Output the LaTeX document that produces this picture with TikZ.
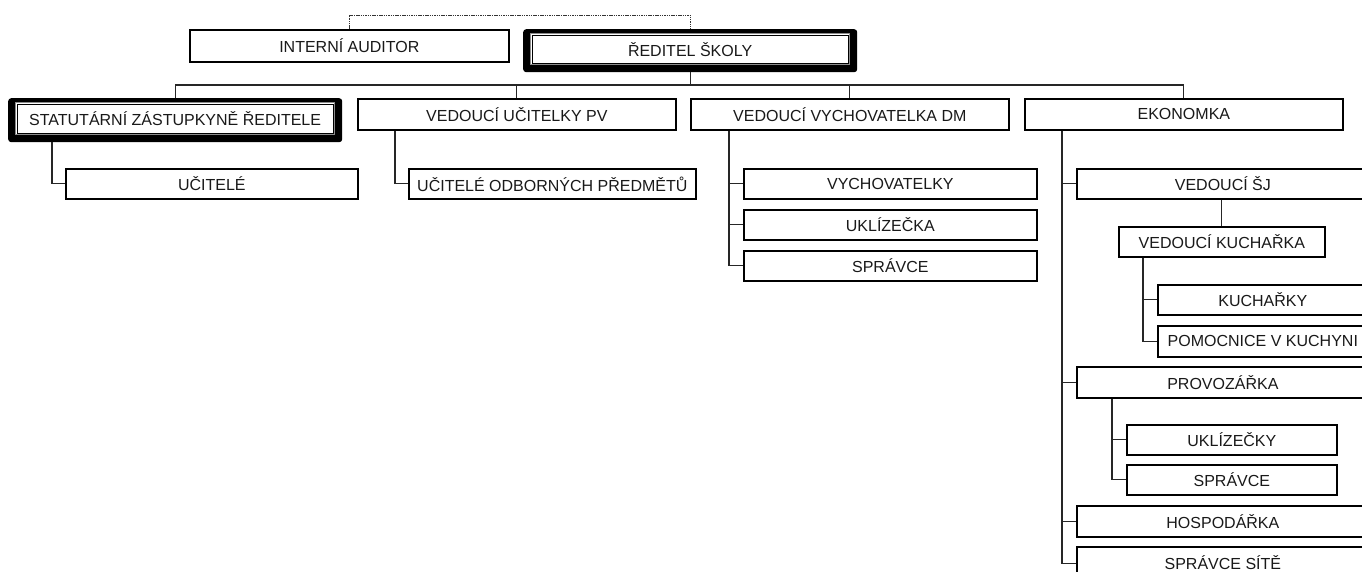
\documentclass[tikz,border=0pt]{standalone}
\usepackage{fontspec}
\setmainfont{Liberation Sans}
\newcommand\obox[6]{\node[box, minimum width={#4-#2}, minimum height={#5-#3}] (#1) at (#2,#3) {#6};}
\newcommand\heavybox[6]{%
  \node[heavyouter, minimum width={#4-#2}, minimum height={#5-#3}] (#1) at (#2,#3) {};
  \node[heavyinner, minimum width={#4-#2-15}, minimum height={#5-#3-12}] (#1in) at (#2+7,#3+4) {#6};
  \draw[black, line width=0.6pt] ([shift={(2.2,2.2)}]#1in.north west) rectangle ([shift={(-2.2,-2.2)}]#1in.south east);}
\begin{document}
\begin{tikzpicture}[x=1pt,y=-1pt,
  box/.style={draw=black, line width=1.7pt, fill=white, inner sep=0pt, anchor=north west,
    font=\fontsize{16}{18}\selectfont, text=black!90},
  heavyouter/.style={fill=black, rounded corners=3pt, inner sep=0pt, anchor=north west},
  heavyinner/.style={draw=black!45, line width=1.2pt, fill=white, inner sep=0pt, anchor=north west,
    font=\fontsize{16}{18}\selectfont, text=black!90},
  conn/.style={draw=black!85, line width=1.1pt},
  dotline/.style={draw=black!80, line width=0.7pt, dash pattern=on 1.5pt off 0.8pt}]
\useasboundingbox (0,0) rectangle (1362,572);

% top level
\obox{aud}{189}{29}{508}{61}{INTERNÍ AUDITOR}
\heavybox{dir}{523}{29}{857}{72}{ŘEDITEL ŠKOLY}

% second level
\heavybox{stat}{8}{98}{342}{142}{STATUTÁRNÍ ZÁSTUPKYNĚ ŘEDITELE}
\obox{pv}{357}{98}{675}{129}{VEDOUCÍ UČITELKY PV}
\obox{dm}{690}{98}{1008}{129}{VEDOUCÍ VYCHOVATELKA DM}
\obox{eko}{1024}{98}{1342}{129}{EKONOMKA}

% third level
\obox{uc}{65}{168}{357}{198}{UČITELÉ}
\obox{uop}{408}{168}{695}{198}{UČITELÉ ODBORNÝCH PŘEDMĚTŮ}
\obox{vych}{743}{168}{1036}{198}{VYCHOVATELKY}
\obox{ukl}{743}{209}{1036}{239}{UKLÍZEČKA}
\obox{spr}{743}{250}{1036}{280}{SPRÁVCE}

\obox{sj}{1076}{168}{1368}{198}{VEDOUCÍ ŠJ}
\obox{vk}{1118}{226}{1324}{256}{VEDOUCÍ KUCHAŘKA}
\obox{kuch}{1157}{284}{1367}{314}{KUCHAŘKY}
\obox{pom}{1157}{325}{1367}{356}{POMOCNICE V KUCHYNI}
\obox{prov}{1076}{366}{1368}{397}{PROVOZÁŘKA}
\obox{ukly}{1126}{424}{1336}{454}{UKLÍZEČKY}
\obox{spr2}{1126}{464}{1336}{494}{SPRÁVCE}
\obox{hosp}{1076}{505}{1368}{536}{HOSPODÁŘKA}
\obox{sit}{1076}{546}{1368}{577}{SPRÁVCE SÍTĚ}

% connectors
\coordinate (dtop) at (0,15);
\draw[dotline] (aud.north) |- (dtop -| dir.north) -- (dir.north);

\coordinate (bus) at (0,85);
\draw[conn] (dir.south) -- (dir.south |- bus);
\draw[conn] (stat.north) -- (stat.north |- bus) -- (eko.north |- bus) -- (eko.north);
\draw[conn] (pv.north) -- (pv.north |- bus);
\draw[conn] (dm.north) -- (dm.north |- bus);

\draw[conn] ([xshift=44pt]stat.south west) |- (uc.west);
\draw[conn] ([xshift=38pt]pv.south west) |- (uop.west);
\draw[conn] ([xshift=39pt]dm.south west) |- (vych.west);
\draw[conn] ([xshift=39pt]dm.south west) |- (ukl.west);
\draw[conn] ([xshift=39pt]dm.south west) |- (spr.west);

\draw[conn] ([xshift=38pt]eko.south west) |- (sj.west);
\draw[conn] ([xshift=38pt]eko.south west) |- (prov.west);
\draw[conn] ([xshift=38pt]eko.south west) |- (hosp.west);
\draw[conn] ([xshift=38pt]eko.south west) |- ([yshift=-1pt]sit.west);

\draw[conn] (sj.south -| vk.north) -- (vk.north);
\draw[conn] ([xshift=25pt]vk.south west) |- (kuch.west);
\draw[conn] ([xshift=25pt]vk.south west) |- (pom.west);
\draw[conn] ([xshift=36pt]prov.south west) |- (ukly.west);
\draw[conn] ([xshift=36pt]prov.south west) |- (spr2.west);
\end{tikzpicture}
\end{document}
